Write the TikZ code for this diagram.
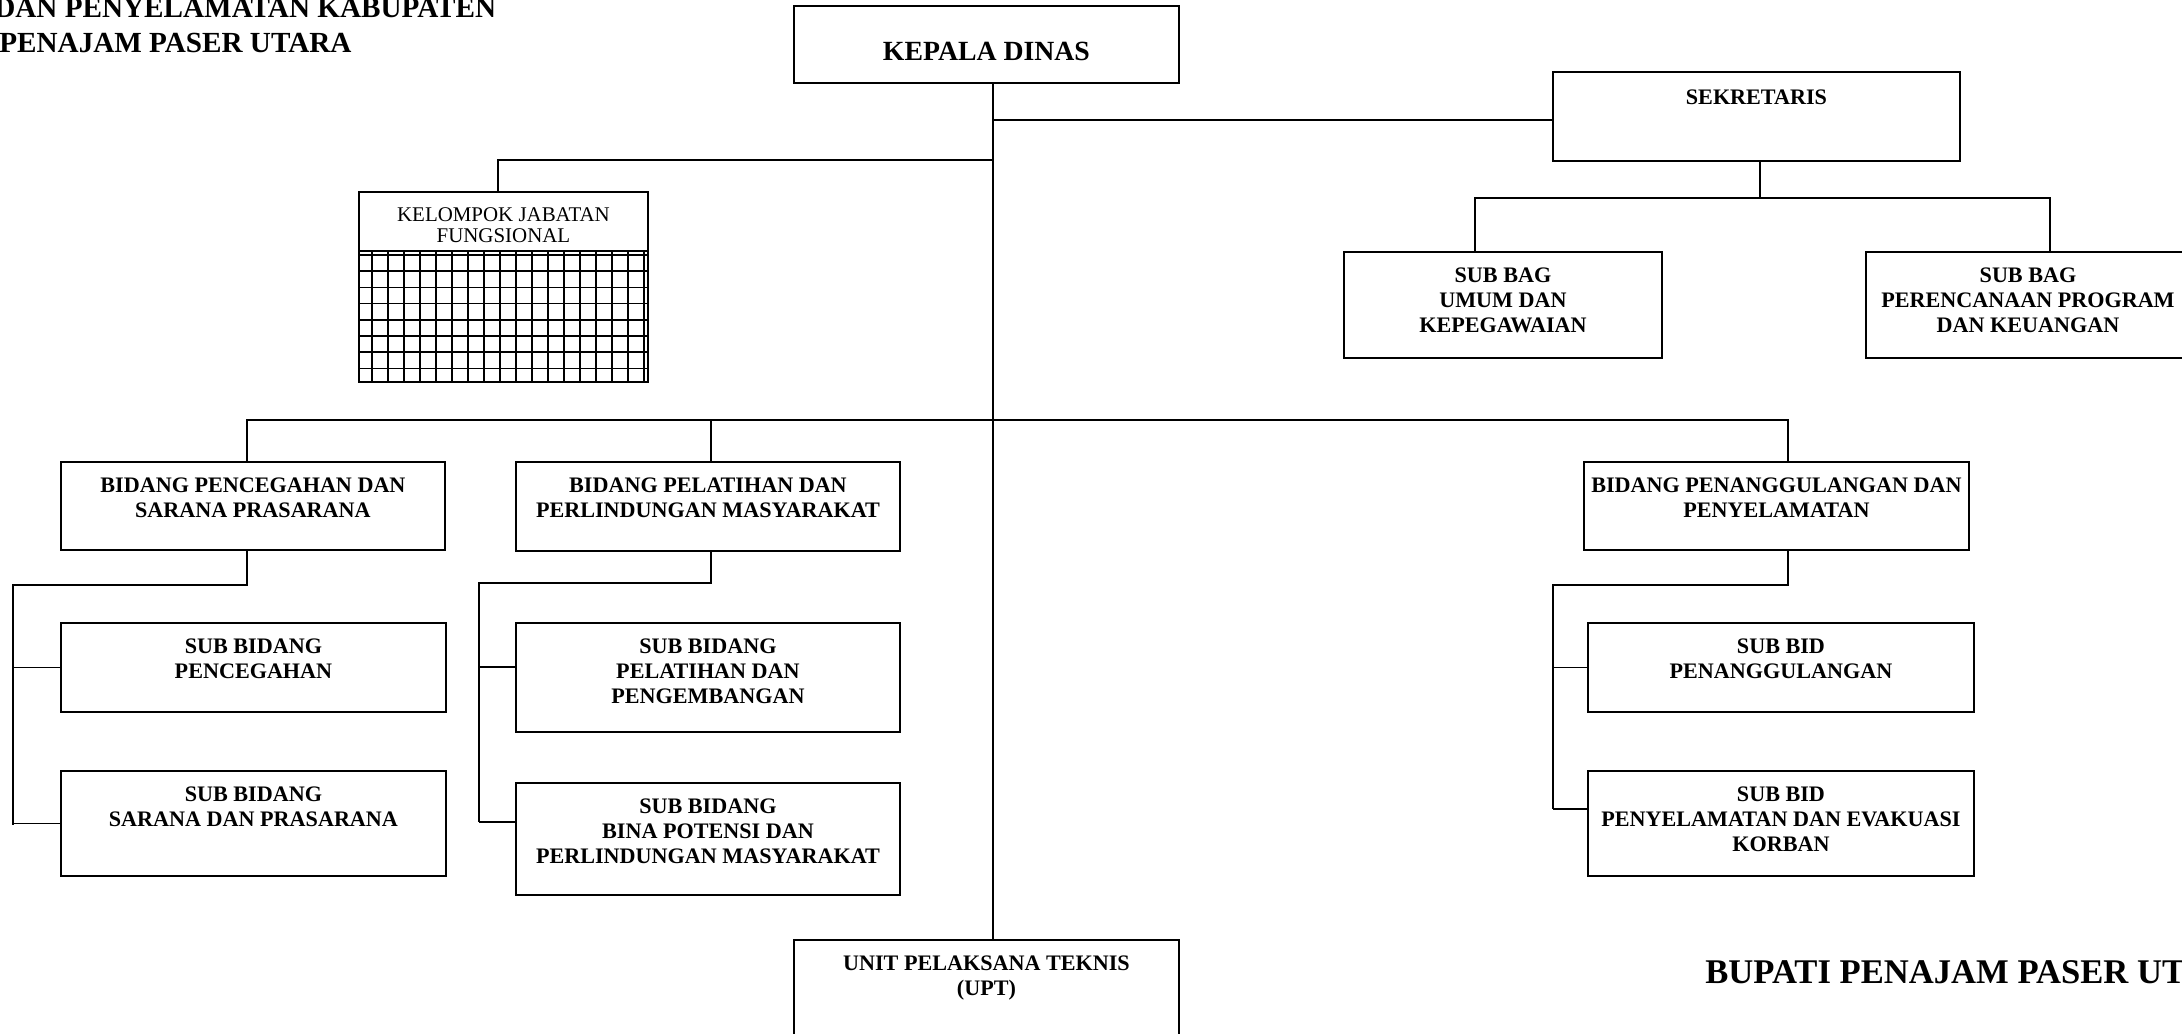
\documentclass[tikz,border=0pt]{standalone}
\usepackage{fontspec}
\setmainfont{Liberation Serif}
\newcommand\boxfont{\bfseries\fontsize{12.6}{14.2}\selectfont}
\newcommand\headfont{\bfseries\fontsize{15.8}{18}\selectfont}
\newcommand\kjffont{\fontsize{11.9}{11.9}\selectfont}
\newcommand\titlefont{\bfseries\fontsize{16.6}{19}\selectfont}
\newcommand\bupatifont{\bfseries\fontsize{19.7}{22}\selectfont}
\tikzset{
	unit/.style 2 args={draw, line width=1.1pt, inner sep=0pt, anchor=north west,
		minimum width=#1*0.2mm, minimum height=#2*0.2mm},
	txt/.style={anchor=north, inner sep=0pt, align=center, font=\boxfont, yshift=-#1},
	txt/.default=3.3mm,
	link/.style={line width=1.1pt},
	gridline/.style={line width=1pt}
}

\begin{document}
\begin{tikzpicture}[x=0.2mm, y=-0.2mm]
	\useasboundingbox (0,0) rectangle (2182,1033);
	\clip (0,0) rectangle (2182,1033);
	
	% Title
	\node[anchor=base west, inner sep=0pt, font=\titlefont] (ttl1) at (-6,17) {DAN PENYELAMATAN KABUPATEN};
	\node[anchor=base west, inner sep=0pt, font=\titlefont] (ttl2) at (-1,52) {PENAJAM PASER UTARA};
	
	% Boxes
	\node[unit={385}{77}, label={[txt=7.3mm, font=\headfont]north:KEPALA DINAS}] (kd) at (793,5) {};
	\node[unit={407}{89}, label={[txt=3.6mm]north:SEKRETARIS}] (sek) at (1552,71) {};
	\node[unit={318}{106}, label={[txt]north:SUB BAG\\UMUM DAN\\KEPEGAWAIAN}] (sbu) at (1343,251) {};
	\node[unit={324}{106}, label={[txt]north:SUB BAG\\PERENCANAAN PROGRAM\\DAN KEUANGAN}] (sbk) at (1865,251) {};
	\node[unit={289}{190}, label={[txt=3.2mm, font=\kjffont]north:KELOMPOK JABATAN\\FUNGSIONAL}] (kjf) at (358,191) {};
	
	\node[unit={384}{88}, label={[txt]north:BIDANG PENCEGAHAN DAN\\SARANA PRASARANA}] (bps) at (60,461) {};
	\node[unit={384}{89}, label={[txt]north:BIDANG PELATIHAN DAN\\PERLINDUNGAN MASYARAKAT}] (bpl) at (515,461) {};
	\node[unit={385}{88}, label={[txt]north:BIDANG PENANGGULANGAN DAN\\PENYELAMATAN}] (bpg) at (1583,461) {};
	
	\node[unit={385}{89}, label={[txt]north:SUB BIDANG\\PENCEGAHAN}] (sbp) at (60,622) {};
	\node[unit={385}{105}, label={[txt]north:SUB BIDANG\\SARANA DAN PRASARANA}] (sbs) at (60,770) {};
	\node[unit={384}{109}, label={[txt]north:SUB BIDANG\\PELATIHAN DAN\\PENGEMBANGAN}] (spl) at (515,622) {};
	\node[unit={384}{112}, label={[txt]north:SUB BIDANG\\BINA POTENSI DAN\\PERLINDUNGAN MASYARAKAT}] (sbn) at (515,782) {};
	\node[unit={386}{89}, label={[txt]north:SUB BID\\PENANGGULANGAN}] (sbg) at (1587,622) {};
	\node[unit={386}{105}, label={[txt]north:SUB BID\\PENYELAMATAN DAN EVAKUASI\\KORBAN}] (sbe) at (1587,770) {};
	
	\node[unit={385}{120}, label={[txt]north:UNIT PELAKSANA TEKNIS\\(UPT)}] (upt) at (793,939) {};
	
	% Grid of the functional group
	\draw[link] (358,251) -- (647,251);
	\foreach \gx in {0,...,17}
		\draw[gridline] (372+16*\gx,251) -- (372+16*\gx,381);
	\foreach \gy in {0,...,7}
		\draw[gridline] (358,255+16.2*\gy) -- (647,255+16.2*\gy);
	
	% Lines
	\coordinate (trunk) at (993,0);
	\draw[link] (trunk |- kd.south) -- (trunk |- upt.north);
	\draw[link] (993,120) -- (993,120 -| sek.west);
	\draw[link] (993,160) -- (498,160) -- (498,0 |- kjf.north);
	
	\draw[link] (1760,0 |- sek.south) -- (1760,198);
	\draw[link] (1475,0 |- sbu.north) |- (2050,198) -- (2050,0 |- sbk.north);
	
	\draw[link] (247,0 |- bps.north) |- (1788,420) -- (1788,0 |- bpg.north);
	\draw[link] (711,420) -- (711,0 |- bpl.north);
	
	\draw[link] (247,0 |- bps.south) |- (13,585) -- (13,825);
	\draw[link] (13,0 |- sbp.west) -- (sbp.west);
	\draw[link] (13,0 |- sbs.west) -- (sbs.west);
	
	\draw[link] (711,0 |- bpl.south) |- (479,583) -- (479,822);
	\draw[link] (479,667) -- (479,667 -| spl.west);
	\draw[link] (479,822) -- (479,822 -| sbn.west);
	
	\draw[link] (1788,0 |- bpg.south) |- (1553,585) -- (1553,809);
	\draw[link] (1553,0 |- sbg.west) -- (sbg.west);
	\draw[link] (1553,809) -- (1553,809 -| sbe.west);
	
	% Signature
	\node[anchor=base west, inner sep=0pt, font=\bupatifont] (bpt) at (1705,983) {BUPATI PENAJAM PASER UTARA};
\end{tikzpicture}
\end{document}
